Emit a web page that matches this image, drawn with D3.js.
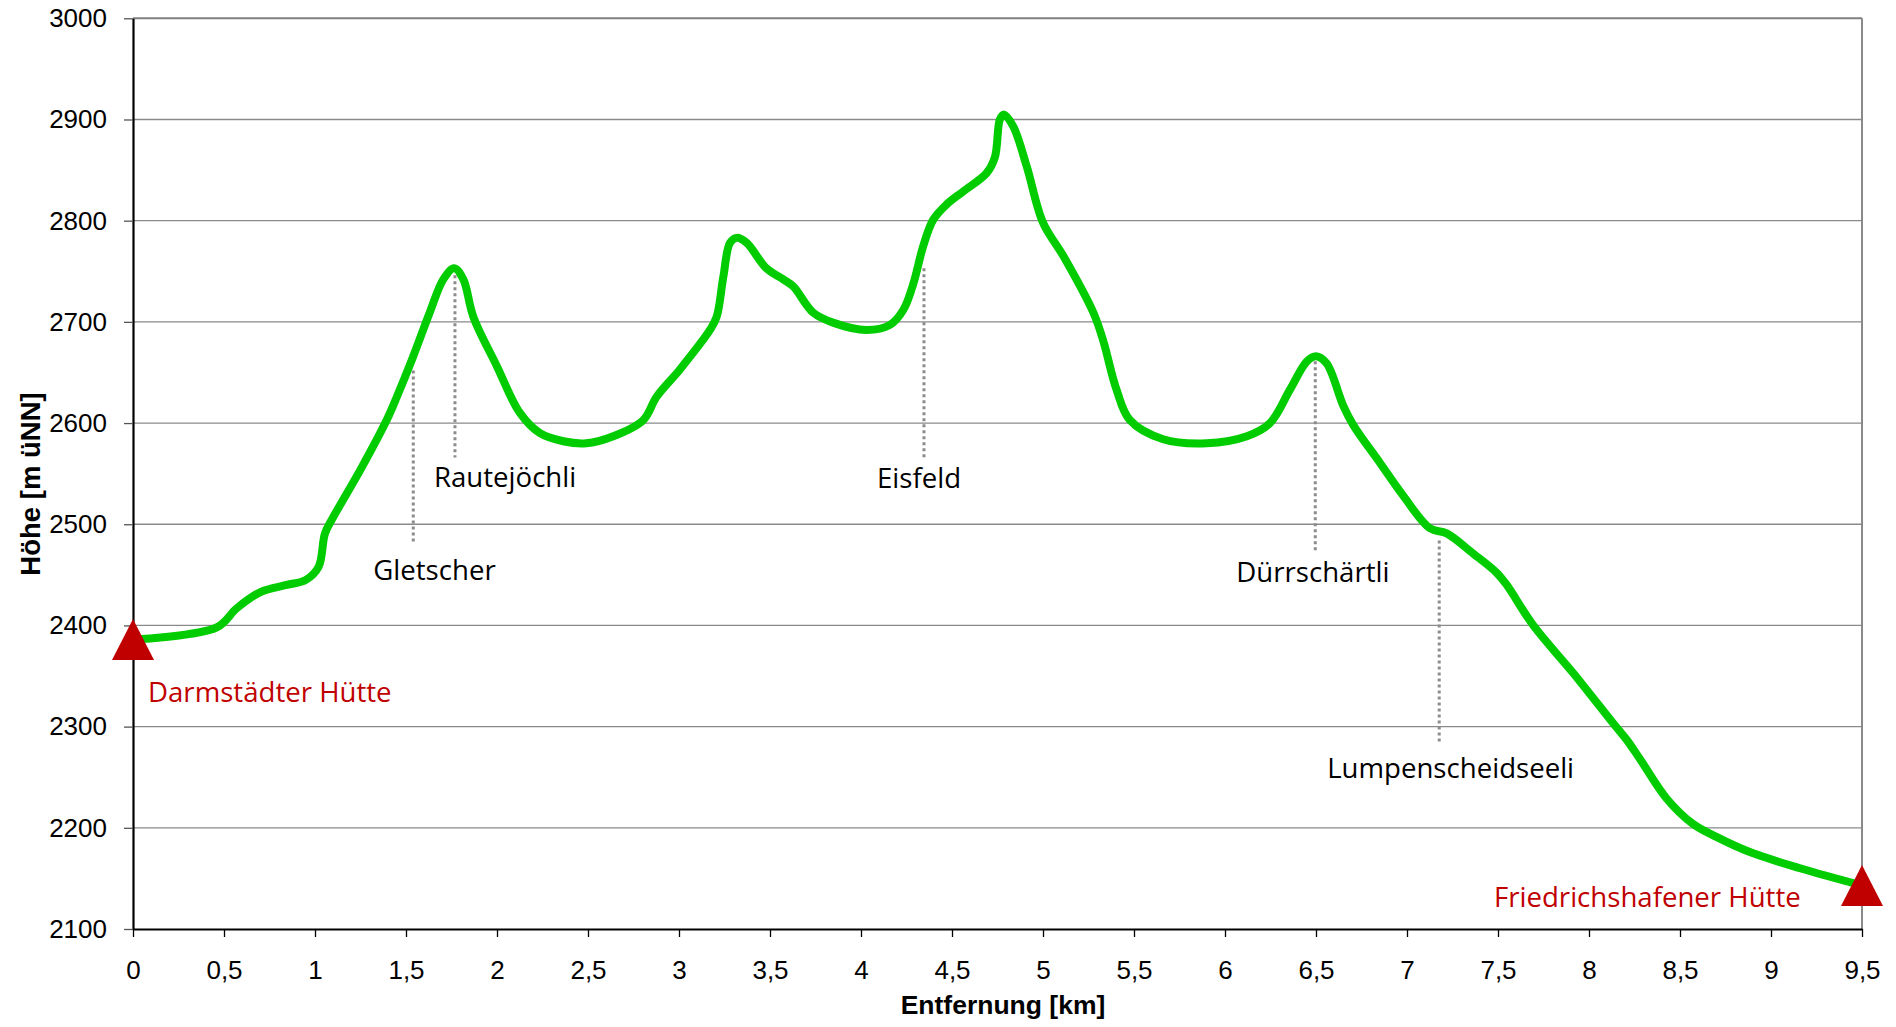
<!DOCTYPE html>
<html><head><meta charset="utf-8">
<script src="https://cdn.jsdelivr.net/npm/d3@7"></script>
<style>
html,body{margin:0;padding:0;background:#fff;}
svg{display:block;}
</style></head>
<body>
<svg id="chart" width="1896" height="1027"></svg>
<script>
// ---- data ----
const distanceKm = [0.00,0.46,0.57,0.70,0.844,0.95,1.02,1.055,1.10,1.25,1.394,1.45,1.54,1.63,1.705,1.765,1.815,1.87,2.00,2.126,2.236,2.364,2.49,2.639,2.804,2.877,3.005,3.17,3.207,3.244,3.28,3.317,3.372,3.48,3.573,3.628,3.738,3.85,4.03,4.159,4.233,4.288,4.342,4.397,4.47,4.562,4.69,4.736,4.763,4.785,4.837,4.91,5.00,5.112,5.277,5.33,5.404,5.477,5.66,5.899,6.12,6.247,6.357,6.45,6.50,6.558,6.65,6.705,6.85,6.98,7.126,7.218,7.364,7.493,7.548,7.694,7.913,8.134,8.207,8.28,8.426,8.57,8.70,8.884,9.16,9.50];
const elevationM = [2386,2398,2417,2433,2440,2445,2458,2491,2507,2554,2603,2626,2666,2709,2742,2753,2742,2705,2656,2610,2590,2582,2580,2587,2603,2626,2653,2692,2705,2745,2778,2783,2778,2753,2742,2735,2709,2699,2692,2697,2712,2738,2775,2801,2816,2829,2847,2863,2900,2905,2893,2854,2798,2765,2709,2682,2633,2603,2584,2580,2587,2600,2633,2661,2666,2659,2617,2598,2561,2528,2496,2491,2471,2452,2440,2400,2353,2303,2287,2268,2229,2204,2191,2176,2160,2143];

const xTicks = [0,0.5,1,1.5,2,2.5,3,3.5,4,4.5,5,5.5,6,6.5,7,7.5,8,8.5,9,9.5];
const yTicks = [2100,2200,2300,2400,2500,2600,2700,2800,2900,3000];

const waypointNames  = ["Gletscher","Rautejöchli","Eisfeld","Dürrschärtli","Lumpenscheidseeli"];
const waypointKm     = [1.54,1.769,4.346,6.496,7.177];
const waypointTopM   = [2652,2746,2753,2661,2484];
const waypointBotM   = [2481,2566,2566,2473,2285];

const hutNames = ["Darmstädter Hütte","Friedrichshafener Hütte"];
const hutKm    = [0,9.5];
const hutM     = [2386,2143];

const xTitle = "Entfernung [km]";
const yTitle = "Höhe [m üNN]";

// ---- layout ----
const L = 133, R = 1862, T = 18.3, B = 929;
const svg = d3.select("#chart");
const x = d3.scaleLinear().domain([0,9.5]).range([L,R]);
const y = d3.scaleLinear().domain([2100,3000]).range([B,T]);
const tickFont = "'Liberation Sans', Arial, sans-serif";
const annoFont = "'Open Sans', 'Noto Sans', sans-serif";

// grid
svg.append("g").selectAll("line").data(yTicks.filter(v=>v>2100)).join("line")
  .attr("x1",L).attr("x2",R).attr("y1",d=>y(d)).attr("y2",d=>y(d))
  .attr("stroke",d=>d===3000?"#808080":"#8a8a8a").attr("stroke-width",d=>d===3000?2:1.3);
// right border
svg.append("line").attr("x1",R).attr("x2",R).attr("y1",T).attr("y2",B)
  .attr("stroke","#8a8a8a").attr("stroke-width",2);

// axes
const fmt = d => String(d).replace(".", ",");
const gy = svg.append("g").attr("transform",`translate(${L},0)`)
  .call(d3.axisLeft(y).tickValues(yTicks).tickSize(9).tickSizeOuter(0).tickPadding(17).tickFormat(d=>d));
const gx = svg.append("g").attr("transform",`translate(0,${B})`)
  .call(d3.axisBottom(x).tickValues(xTicks).tickSize(8).tickSizeOuter(0).tickPadding(23.5).tickFormat(fmt));
[gx,gy].forEach(g=>{
  g.select(".domain").attr("stroke","#000").attr("stroke-width",2.2);
  g.selectAll(".tick line").attr("stroke","#000").attr("stroke-width",1.3);
  g.selectAll(".tick text").attr("fill","#000").style("font-family",tickFont).style("font-size","26px");
});
gy.selectAll(".tick line").attr("stroke","#555");

// titles
svg.append("text").attr("x",1003).attr("y",1014).attr("text-anchor","middle")
  .style("font-family",tickFont).style("font-size","26.5px").style("font-weight","bold").text(xTitle);
svg.append("text").attr("transform","translate(40,484) rotate(-90)").attr("text-anchor","middle")
  .style("font-family",tickFont).style("font-size","27.5px").style("font-weight","bold").text(yTitle);

// waypoint dotted lines
const wp = waypointNames.map((n,i)=>({n,km:waypointKm[i],t:waypointTopM[i],b:waypointBotM[i]}));
svg.append("g").selectAll("line").data(wp).join("line")
  .attr("x1",d=>x(d.km)).attr("x2",d=>x(d.km)).attr("y1",d=>y(d.t)).attr("y2",d=>y(d.b))
  .attr("stroke","#8c8c8c").attr("stroke-width",3).attr("stroke-dasharray","3 3");

// profile line
const pts = distanceKm.map((k,i)=>[k,elevationM[i]]);
svg.append("path").datum(pts)
  .attr("d",d3.line().x(d=>x(d[0])).y(d=>y(d[1])).curve(d3.curveCatmullRom.alpha(0.5)))
  .attr("fill","none").attr("stroke","#00CC00").attr("stroke-width",8)
  .attr("stroke-linecap","round").attr("stroke-linejoin","round");

// waypoint labels
const wpOffsets = [[-40,37],[-21,30],[-47,31],[-79,30],[-112,36]];
svg.append("g").selectAll("text").data(wp).join("text")
  .attr("x",(d,i)=>x(d.km)+wpOffsets[i][0]).attr("y",(d,i)=>y(d.b)+wpOffsets[i][1])
  .style("font-family",annoFont).style("font-size","27.6px").attr("fill","#000").text(d=>d.n);

// huts
const huts = hutNames.map((n,i)=>({n,km:hutKm[i],m:hutM[i]}));
svg.append("g").selectAll("path").data(huts).join("path")
  .attr("d",d=>{const cx=x(d.km), cy=y(d.m); return `M${cx},${cy-20.5}L${cx+21},${cy+20.5}L${cx-21},${cy+20.5}Z`;})
  .attr("fill","#C00000");
const hutOffsets = [[15,62],[-368,22]];
svg.append("g").selectAll("text").data(huts).join("text")
  .attr("x",(d,i)=>x(d.km)+hutOffsets[i][0]).attr("y",(d,i)=>y(d.m)+hutOffsets[i][1])
  .style("font-family",annoFont).style("font-size","27.6px").attr("fill","#C00000").text(d=>d.n);
</script>
</body></html>
